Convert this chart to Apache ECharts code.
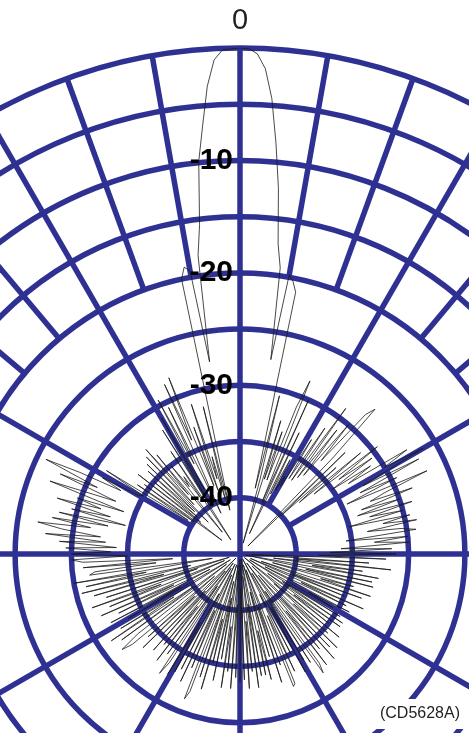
<!DOCTYPE html>
<html>
<head>
<meta charset="utf-8">
<script src="https://cdn.jsdelivr.net/npm/echarts@6/dist/echarts.min.js"></script>
<style>
  html, body { margin: 0; padding: 0; background: #fff; }
  #chart { width: 469px; height: 733px; }
</style>
</head>
<body>
<div id="chart"></div>
<script>
// Ring labels (dB) shown along the 0° spoke
const ringLabels = [0, -10, -20, -30, -40];

// Relative gain in dB, one sample per degree, clockwise from 0° (top)
const gainDb = [
  0, -0.05, -0.5, -1.8, -4.4, -8.3, -12.3, -17.2, -19.3, -27.5,          // 0-9
  -19.8, -20.3, -21.2, -39.0, -30.5, -38.0, -44.0, -32.6, -38.0, -33.5,  // 10-19
  -38.0, -31.0, -28.4, -40.0, -30.0, -43.0, -33.0, -39.0, -35.5, -38.5,  // 20-29
  -37.0, -38.0, -33.0, -37.0, -31.5, -37.0, -29.0, -36.5, -31.0, -36.0,  // 30-39
  -30.0, -34.0, -28.3, -27.4, -33.0, -44.0, -32.0, -40.0, -33.5, -38.0,  // 40-49
  -31.0, -36.5, -29.5, -34.0, -30.5, -35.0, -31.0, -33.5, -27.5, -30.0,  // 50-59
  -26.2, -32.5, -27.0, -33.0, -29.5, -34.5, -26.8, -31.0, -32.5, -28.6,  // 60-69
  -33.5, -30.0, -34.0, -29.0, -33.0, -30.0, -35.0, -29.5, -32.0, -29.0,  // 70-79
  -33.5, -30.5, -29.2, -35.5, -30.0, -33.0, -29.9, -36.0, -31.5, -37.0,  // 80-89
  -31.1, -38.0, -32.0, -44.0, -33.5, -40.0, -31.5, -42.0, -34.0, -38.5,  // 90-99
  -32.5, -44.5, -33.0, -39.0, -32.8, -42.0, -34.5, -37.5, -32.8, -43.0,  // 100-109
  -33.5, -40.0, -35.0, -44.0, -33.0, -39.0, -34.5, -42.5, -34.0, -38.0,  // 110-119
  -35.5, -44.0, -34.5, -40.5, -34.0, -42.0, -34.0, -39.0, -35.0, -44.5,  // 120-129
  -33.5, -41.0, -34.5, -38.5, -33.0, -43.5, -33.5, -40.0, -32.5, -42.5,  // 130-139
  -34.0, -38.5, -32.5, -44.0, -33.0, -32.1, -41.0, -33.5, -43.0, -34.0,  // 140-149
  -39.5, -33.0, -44.5, -35.0, -41.0, -33.5, -39.0, -32.5, -32.3, -43.5,  // 150-159
  -34.5, -40.0, -33.0, -44.0, -35.5, -41.5, -33.5, -38.0, -34.0, -44.5,  // 160-169
  -34.0, -40.5, -33.0, -43.0, -34.5, -39.0, -33.0, -44.0, -33.8, -42.0,  // 170-179
  -33.6, -44.5, -34.0, -40.5, -33.0, -43.5, -34.5, -38.5, -33.0, -44.0,  // 180-189
  -35.5, -41.0, -33.5, -42.5, -35.0, -39.0, -32.5, -44.0, -33.5, -40.0,  // 190-199
  -32.0, -31.2, -43.0, -34.0, -39.5, -32.5, -44.0, -33.5, -41.0, -33.0,  // 200-209
  -38.0, -32.5, -43.5, -33.5, -32.2, -41.5, -34.0, -44.0, -33.0, -39.0,  // 210-219
  -34.5, -43.0, -33.5, -40.5, -35.0, -44.5, -33.0, -39.5, -34.0, -42.0,  // 220-229
  -32.5, -31.5, -33.5, -43.5, -32.0, -40.0, -31.2, -38.0, -32.5, -44.0,  // 230-239
  -33.5, -39.0, -32.0, -42.0, -33.0, -38.5, -31.5, -43.5, -32.5, -37.5,  // 240-249
  -31.0, -41.0, -32.5, -44.0, -31.5, -38.0, -30.5, -40.5, -31.0, -36.5,  // 250-259
  -30.0, -42.5, -31.5, -32.0, -37.5, -31.0, -39.0, -31.0, -30.0, -35.0,  // 260-269
  -30.0, -33.5, -29.5, -34.0, -28.9, -33.0, -27.6, -32.5, -29.0, -26.8,  // 270-279
  -31.5, -28.0, -33.0, -28.5, -34.5, -29.5, -33.0, -28.0, -32.0, -29.7,  // 280-289
  -34.0, -26.9, -30.5, -33.0, -27.5, -31.0, -25.8, -29.0, -33.0, -31.0,  // 290-299
  -34.5, -35.0, -31.0, -39.5, -34.0, -40.0, -34.5, -43.0, -33.5, -40.5,  // 300-309
  -35.0, -40.0, -34.0, -39.5, -33.5, -41.0, -33.0, -39.0, -32.5, -38.0,  // 310-319
  -33.5, -42.5, -35.0, -37.5, -36.5, -39.0, -34.0, -43.5, -32.0, -39.5,  // 320-329
  -31.0, -38.5, -29.5, -36.0, -30.5, -41.0, -28.5, -34.0, -28.1, -38.5,  // 330-339
  -33.0, -39.0, -31.0, -38.0, -36.0, -40.0, -31.5, -41.0, -20.0, -19.0,  // 340-349
  -19.5, -27.7, -18.2, -15.5, -9.9, -6.8, -3.3, -1.0, -0.15, -0.05       // 350-359
];

const GRID_BLUE = '#2e3192';
const GRID_WIDTH = 5.5;
const FONT = '"Liberation Sans", Arial, sans-serif';

// Spokes every 10°: cardinal spokes reach the centre, every 30° reach the
// -40 dB ring, the rest stop at the -20 dB ring.
const spokes = [];
for (let a = 0; a < 360; a += 10) {
  const inner = a % 90 === 0 ? -45 : (a % 30 === 0 ? -40 : -20);
  spokes.push([inner, a]);
}

const patternData = gainDb.map((g, i) => [g, i]);
patternData.push([gainDb[0], 360]);

const chart = echarts.init(document.getElementById('chart'), null, { renderer: 'canvas' });

chart.setOption({
  backgroundColor: '#ffffff',
  animation: false,
  polar: { center: [240, 554], radius: 506 },
  angleAxis: {
    type: 'value', min: 0, max: 360, startAngle: 90, clockwise: true,
    axisLine: { show: false }, axisTick: { show: false },
    axisLabel: { show: false }, splitLine: { show: false }
  },
  radiusAxis: {
    type: 'value', min: -45, max: 0, interval: 5,
    axisLine: { show: false }, axisTick: { show: false }, axisLabel: { show: false },
    splitLine: { show: true, lineStyle: { color: GRID_BLUE, width: GRID_WIDTH } }
  },
  series: [
    {
      type: 'custom',
      coordinateSystem: 'polar',
      z: 2,
      silent: true,
      data: spokes,
      renderItem: function (params, api) {
        const inner = api.value(0);
        const ang = api.value(1);
        const p0 = api.coord([inner, ang]);
        const p1 = api.coord([0, ang]);
        return {
          type: 'line',
          shape: { x1: p0[0], y1: p0[1], x2: p1[0], y2: p1[1] },
          style: { stroke: GRID_BLUE, lineWidth: GRID_WIDTH }
        };
      }
    },
    {
      type: 'line',
      coordinateSystem: 'polar',
      z: 3,
      data: patternData,
      symbol: 'none',
      smooth: false,
      clip: false,
      lineStyle: { color: '#1a1a1a', width: 0.8 }
    },
    {
      type: 'scatter',
      coordinateSystem: 'polar',
      z: 5,
      silent: true,
      symbolSize: 0,
      itemStyle: { opacity: 1 },
      data: ringLabels.map(v => v === 0 ? {
        value: [v, 0],
        label: { position: 'top', distance: 13, fontWeight: 'normal', fontSize: 29, color: '#231f20' }
      } : { value: [v, 0] }),
      label: {
        show: true,
        position: 'left',
        distance: 7,
        opacity: 1,
        formatter: p => String(p.value[0]),
        fontFamily: FONT,
        fontWeight: 'bold',
        fontSize: 30,
        color: '#000'
      }
    }
  ],
  graphic: [
    { type: 'rect', z: 100, shape: { x: 372, y: 699, width: 97, height: 30 }, style: { fill: '#fff' } },
    {
      type: 'text', z: 101, x: 420, y: 714,
      style: { text: '(CD5628A)', font: '16px ' + FONT, fill: '#231f20', align: 'center', verticalAlign: 'middle' }
    }
  ]
});
</script>
</body>
</html>
